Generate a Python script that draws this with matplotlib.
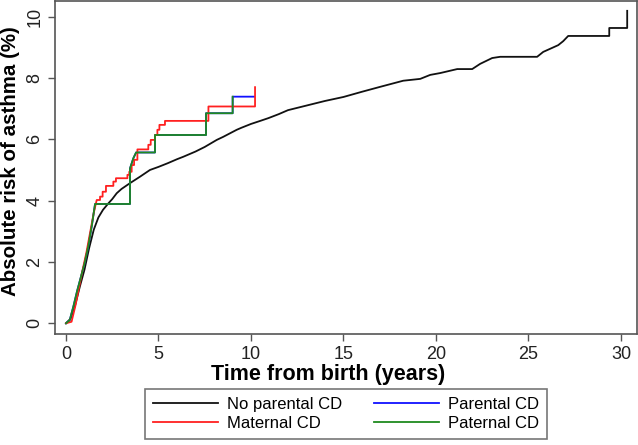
import matplotlib.pyplot as plt
import numpy as np

# Cumulative incidence of asthma (%) by years since birth
none_t = [0, 0.25, 0.5, 0.75, 1.0, 1.25, 1.5, 1.75, 2.0, 2.29, 2.5, 2.74, 3.0, 3.46,
          4.0, 4.54, 5.0, 5.5, 6.0, 6.34, 7.0, 7.5, 8.15, 8.5, 9.23, 9.5, 10.0, 10.5,
          10.94, 11.5, 12.0, 13.0, 14.0, 15.0, 16.0, 16.98, 18.23, 19.15, 19.69,
          20.23, 21.15, 21.96, 22.39, 23.04, 23.47, 25.47, 25.8, 26.28, 26.61,
          26.88, 27.15, 29.37, 29.37, 30.34, 30.34]
none_v = [0, 0.15, 0.6, 1.2, 1.75, 2.45, 3.05, 3.45, 3.7, 3.91, 4.05, 4.24, 4.38, 4.57,
          4.78, 5.0, 5.1, 5.22, 5.35, 5.43, 5.6, 5.75, 5.98, 6.08, 6.31, 6.38, 6.5, 6.6,
          6.69, 6.82, 6.95, 7.1, 7.25, 7.38, 7.55, 7.71, 7.91, 7.97, 8.1,
          8.16, 8.29, 8.29, 8.46, 8.65, 8.69, 8.69, 8.85, 8.98, 9.07,
          9.2, 9.37, 9.37, 9.63, 9.63, 10.19]

# maternal CD: steady rise, then steps (corner points listed)
mat_t = [0, 0.3, 0.5, 0.7, 0.9, 1.1, 1.3, 1.5, 1.66,
         1.84, 1.84, 1.98, 1.98, 2.16, 2.16, 2.56, 2.56, 2.7, 2.7, 3.32, 3.32,
         3.42, 3.42, 3.55, 3.55, 3.68, 3.68, 3.86, 3.86, 4.45, 4.45, 4.58, 4.58,
         4.81, 4.81, 4.94, 4.94, 5.05, 5.05, 5.35, 5.35, 7.7, 7.7, 10.22, 10.22]
mat_v = [0, 0.05, 0.55, 1.15, 1.75, 2.3, 2.95, 3.6, 4.02,
         4.02, 4.13, 4.13, 4.29, 4.29, 4.48, 4.48, 4.62, 4.62, 4.73, 4.73, 4.84,
         4.84, 4.94, 4.94, 5.16, 5.16, 5.33, 5.33, 5.67, 5.67, 5.82, 5.82, 5.98,
         5.98, 6.14, 6.14, 6.31, 6.31, 6.47, 6.47, 6.6, 6.6, 7.07, 7.07, 7.7]

# paternal CD
pat_t = [0, 0.2, 0.4, 0.6, 0.8, 1.0, 1.2, 1.4, 1.57, 3.46, 3.46, 3.64, 3.79,
         4.81, 4.81, 7.57, 7.57, 9.01, 9.01]
pat_v = [0, 0.1, 0.55, 1.05, 1.5, 1.95, 2.5, 3.2, 3.89, 3.89, 5.05, 5.38, 5.57,
         5.57, 6.14, 6.14, 6.85, 6.85, 7.39]

# parental CD (mostly hidden under the maternal/paternal lines)
par_t = pat_t + [10.17]
par_v = pat_v + [7.39]

plt.rcParams['font.family'] = ['Liberation Sans', 'DejaVu Sans']

fig = plt.figure(figsize=(6.38, 4.45), dpi=100)
ax = fig.add_axes([55 / 638, 1 - 334 / 445, 582 / 638, 333 / 445])

lw = 1.3
ax.plot(none_t, none_v, color='#111111', lw=lw, label='No parental CD')
ax.plot(par_t, par_v, color='#1010ff', lw=lw, label='Parental CD')
ax.plot(mat_t, mat_v, color='#ff2020', lw=lw, label='Maternal CD')
ax.plot(pat_t, pat_v, color='#1f8a1f', lw=lw, label='Paternal CD')

ax.set_xlim(-0.595, 30.87)
ax.set_ylim(-0.35, 10.51)
ax.set_xticks([0, 5, 10, 15, 20, 25, 30])
ax.set_yticks([0, 2, 4, 6, 8, 10])

for s in ax.spines.values():
    s.set_color('#555555')
    s.set_linewidth(1.2)
ax.tick_params(direction='out', length=5, width=1, color='#555555',
               labelsize=13, labelcolor='#222222')
for lab in ax.get_yticklabels():
    lab.set_rotation(90)
    lab.set_va('center')

ax.set_xlabel('Time from birth (years)', fontsize=15.5, fontweight='bold')
ax.set_ylabel('Absolute risk of asthma (%)', fontsize=14.8, fontweight='bold')
ax.xaxis.set_label_coords(0.469, -0.09)
ax.yaxis.set_label_coords(-0.060, 0.52)

h, l = ax.get_legend_handles_labels()
order = [0, 2, 1, 3]
leg = fig.legend([h[i] for i in order], [l[i] for i in order], ncol=2,
                 loc='center', bbox_to_anchor=(346 / 638, 1 - 414 / 445),
                 fontsize=12, frameon=True, fancybox=False,
                 edgecolor='#555555', handlelength=3.9, handletextpad=0.55,
                 columnspacing=1.9, borderpad=0.45, labelspacing=0.25)
leg.get_frame().set_linewidth(1.2)

fig.savefig('out.png', dpi=100)
